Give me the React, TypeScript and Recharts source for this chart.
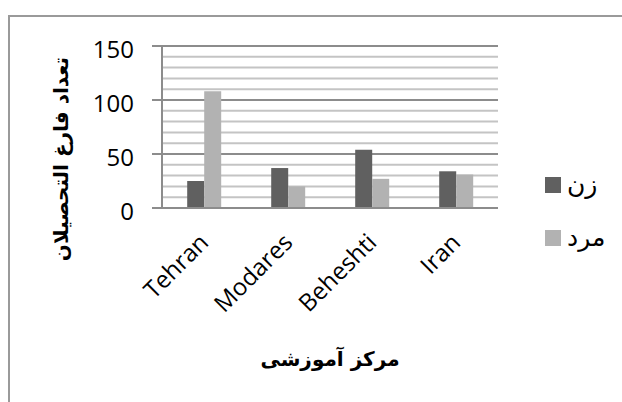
import React from 'react';
import { BarChart, Bar, XAxis, YAxis, CartesianGrid } from 'recharts';

const categories = ['Tehran', 'Modares', 'Beheshti', 'Iran'];
const zanValues = [25, 37, 54, 34];
const mardValues = [108, 20, 27, 31];
const seriesNames = ['زن', 'مرد'];
const yTicks = [0, 10, 20, 30, 40, 50, 60, 70, 80, 90, 100, 110, 120, 130, 140, 150];
const majorTicks = [0, 50, 100, 150];
const xTitle = 'مرکز آموزشی';
const yTitle = 'تعداد فارغ التحصیلان';

const data = categories.map((c, i) => ({ name: c, zan: zanValues[i], mard: mardValues[i] }));

const COLORS = ['#606060', '#b2b2b2'];
const LATIN = '"Open Sans", sans-serif';
const ARABIC = '"DejaVu Sans", sans-serif';

const YTick = (props: any) => {
  const { x, y, payload } = props;
  if (!majorTicks.includes(payload.value)) return null;
  return (
    <g>
      <line x1={x - 2} x2={x + 8} y1={y} y2={y} stroke="#8c8c8c" strokeWidth={2} />
      <text x={x - 20} y={y + 2} textAnchor="end" dominantBaseline="central" fontFamily={LATIN} fontSize={24} fill="#000">
        {payload.value}
      </text>
    </g>
  );
};

const XTick = (props: any) => {
  const { x, y, payload } = props;
  return (
    <g transform={`translate(${x + 6},${y + 28})`}>
      <text transform="rotate(-45)" textAnchor="end" fontFamily={LATIN} fontSize={24} fill="#000">
        {payload.value}
      </text>
    </g>
  );
};

const GridLine = (props: any) => {
  const { x1, x2, y1, y2, index } = props;
  const major = index % 5 === 0;
  return <line x1={x1} x2={x2} y1={y1} y2={y2} stroke={major ? '#8c8c8c' : '#c4c4c4'} strokeWidth={2} />;
};

export default function App() {
  return (
    <div style={{ position: 'absolute', left: 0, top: 0, width: 622, height: 402, overflow: 'hidden', background: '#fff' }}>
      <div style={{ position: 'absolute', left: 8, top: 15, width: 700, height: 500, borderTop: '2px solid #9a9a9a', borderLeft: '2px solid #9a9a9a' }} />
      <div style={{ position: 'absolute', left: 0, top: 0 }}>
        <BarChart width={622} height={402} data={data} margin={{ top: 46, right: 124, left: 92, bottom: 94 }} barCategoryGap="30%" barGap={0}>
          <CartesianGrid vertical={false} horizontal={GridLine as any} />
          <XAxis dataKey="name" tick={XTick} tickLine={false} axisLine={{ stroke: '#8c8c8c', strokeWidth: 2 }} height={100} interval={0}
            label={{ content: () => (
              <text x={330} y={359} textAnchor="middle" dominantBaseline="central" fontFamily={ARABIC} fontWeight="bold" fontSize={20} fill="#000">{xTitle}</text>
            ) }} />
          <YAxis domain={[0, 150]} ticks={yTicks} interval={0} tick={YTick} tickLine={false} axisLine={{ stroke: '#8c8c8c', strokeWidth: 2 }} width={70}
            label={{ content: () => (
              <text x={61} y={159} transform="rotate(-90 61 159)" textAnchor="middle" dominantBaseline="central" fontFamily={ARABIC} fontWeight="bold" fontSize={20} fill="#000">{yTitle}</text>
            ) }} />
          <Bar dataKey="zan" name={seriesNames[0]} fill={COLORS[0]} isAnimationActive={false} />
          <Bar dataKey="mard" name={seriesNames[1]} fill={COLORS[1]} isAnimationActive={false} />
        </BarChart>
      </div>
      <div style={{ position: 'absolute', left: 545, top: 177, fontFamily: ARABIC }}>
        {seriesNames.map((n, i) => (
          <div key={n} style={{ display: 'flex', alignItems: 'center', height: 16, marginBottom: i === 0 ? 37 : 0 }}>
            <div style={{ width: 16, height: 16, background: COLORS[i] }} />
            <span style={{ marginLeft: 6, fontSize: 25, lineHeight: '16px', color: '#000' }}>{n}</span>
          </div>
        ))}
      </div>
    </div>
  );
}
